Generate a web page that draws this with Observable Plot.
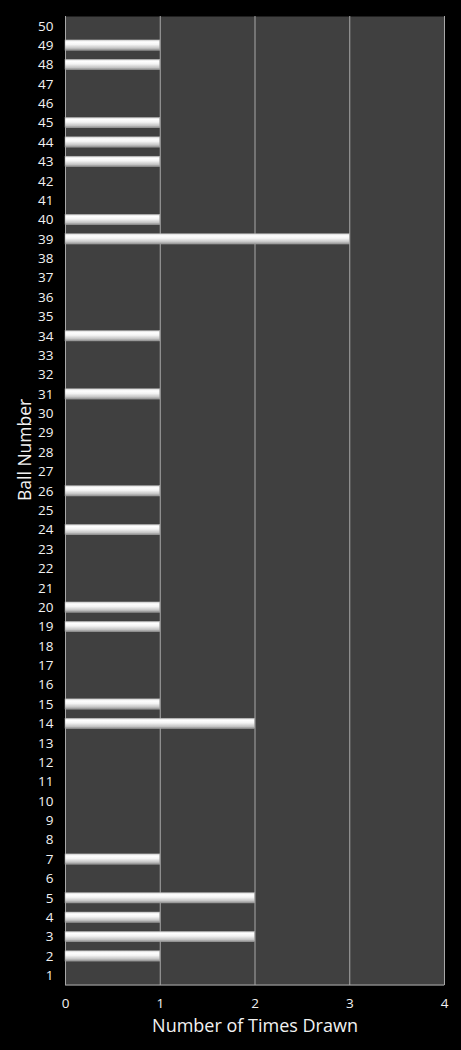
<!DOCTYPE html>
<html>
<head>
<meta charset="utf-8">
<script src="https://cdn.jsdelivr.net/npm/d3@7"></script>
<script src="https://cdn.jsdelivr.net/npm/@observablehq/plot@0.6"></script>
<style>
  html, body { margin: 0; padding: 0; background: #000; }
  #chart svg { display: block; }
</style>
</head>
<body>
<div id="chart"></div>
<script>
const balls = d3.range(1, 51).map(String);
const timesDrawn = [
  0, 1, 2, 1, 2, 0, 1, 0, 0, 0,
  0, 0, 0, 2, 1, 0, 0, 0, 1, 1,
  0, 0, 0, 1, 0, 1, 0, 0, 0, 0,
  1, 0, 0, 1, 0, 0, 0, 0, 3, 1,
  0, 0, 1, 1, 1, 0, 0, 1, 1, 0
];
const xTicks = [0, 1, 2, 3, 4];
const xTitle = ["Number of Times Drawn"];
const yTitle = ["Ball Number"];

const data = balls.map((b, i) => ({ball: b, count: timesDrawn[i]}));

const defs = () => {
  const g = d3.create("svg:defs");
  const lg = g.append("linearGradient")
    .attr("id", "barGrad").attr("x1", 0).attr("x2", 0).attr("y1", 0).attr("y2", 1);
  lg.append("stop").attr("offset", "0%").attr("stop-color", "#d8d8d8");
  lg.append("stop").attr("offset", "20%").attr("stop-color", "#ffffff");
  lg.append("stop").attr("offset", "45%").attr("stop-color", "#f4f4f4");
  lg.append("stop").attr("offset", "80%").attr("stop-color", "#c4c4c4");
  lg.append("stop").attr("offset", "100%").attr("stop-color", "#8a8a8a");
  return g.node();
};

const bottomLine = (index, scales, values, dim) => {
  const g = d3.create("svg:g");
  g.append("line")
    .attr("x1", dim.marginLeft).attr("x2", dim.width - dim.marginRight)
    .attr("y1", dim.height - dim.marginBottom).attr("y2", dim.height - dim.marginBottom)
    .attr("stroke", "#a8a8a8").attr("stroke-width", 1);
  return g.node();
};

const chart = Plot.plot({
  width: 461,
  height: 1050,
  marginLeft: 65,
  marginRight: 17,
  marginTop: 16,
  marginBottom: 65,
  style: {background: "#000", color: "#f2f2f2", fontSize: "13px", fontFamily: "'Open Sans', 'DejaVu Sans', sans-serif"},
  x: {domain: [0, 4]},
  y: {domain: balls.slice().reverse(), paddingInner: 0.47, paddingOuter: 0.235, round: false},
  marks: [
    defs,
    Plot.frame({fill: "#404040", stroke: null}),
    Plot.gridX(xTicks, {stroke: "#a8a8a8", strokeOpacity: 1, strokeWidth: 1}),
    bottomLine,
    Plot.barX(data, {x: "count", y: "ball", fill: "url(#barGrad)", stroke: "#b0b0b0", strokeWidth: 0.5}),
    Plot.axisX(xTicks, {tickSize: 0, tickPadding: 13, fontSize: 13.5, tickFormat: d => String(d), label: null}),
    Plot.axisY({tickSize: 0, tickPadding: 12, fontSize: 13.5, label: null}),
    Plot.text(xTitle, {text: d => d, frameAnchor: "bottom", dy: 46, fontSize: 18, fill: "#f2f2f2"}),
    Plot.text(yTitle, {text: d => d, frameAnchor: "left", dx: -40, rotate: -90, fontSize: 17.5, fill: "#f2f2f2"})
  ]
});
document.getElementById("chart").appendChild(chart);
</script>
</body>
</html>
